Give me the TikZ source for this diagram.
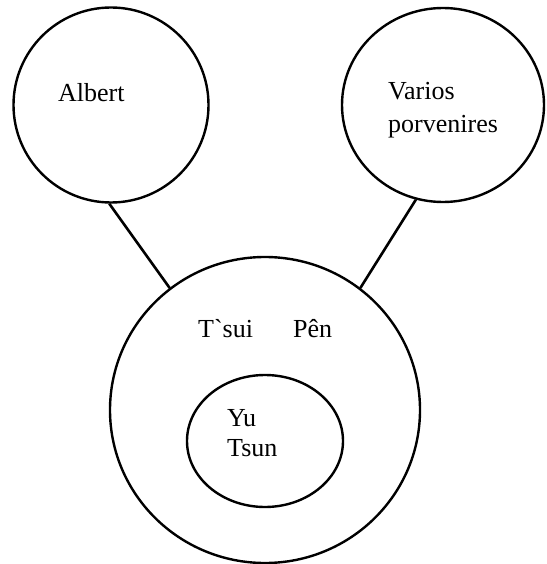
\documentclass[tikz,border=0pt]{standalone}
\usepackage{fontspec}
\setmainfont{Liberation Serif}
\usetikzlibrary{shapes.geometric}
\begin{document}
\begin{tikzpicture}[x=1pt,y=-1pt,
  ring/.style={draw=black,line width=2.4pt,ellipse,inner sep=0pt},
  lbl/.style={inner sep=0pt,font=\fontsize{26}{33}\selectfont},
  link/.style={line width=2.6pt}]
\useasboundingbox (0,0) rectangle (546,564);
\node[ring,minimum width=195pt,minimum height=195pt] (albert) at (111,105) {};
\node[ring,minimum width=202pt,minimum height=194pt] (varios) at (443,105) {};
\node[ring,minimum width=310pt,minimum height=306pt] (tsuipen) at (265,410) {};
\node[ring,minimum width=156pt,minimum height=132pt] (yutsun) at (265,441) {};
\node[lbl,anchor=base west] (albertlbl) at (58,102) {Albert};
\node[lbl,anchor=north west,align=left] (varioslbl) at (388,82) {Varios\\porvenires};
\node[lbl,anchor=base west] (tsuipenlbl) at (198,337) {T\textasciigrave sui\hspace{40pt}Pên};
\node[lbl,anchor=north west,align=left,font=\fontsize{26}{30}\selectfont] (yutsunlbl) at (227,409) {Yu\\Tsun};
\draw[link] (albert.269) -- (tsuipen.128);
\draw[link] (varios.254) -- (tsuipen.52);
\end{tikzpicture}
\end{document}
